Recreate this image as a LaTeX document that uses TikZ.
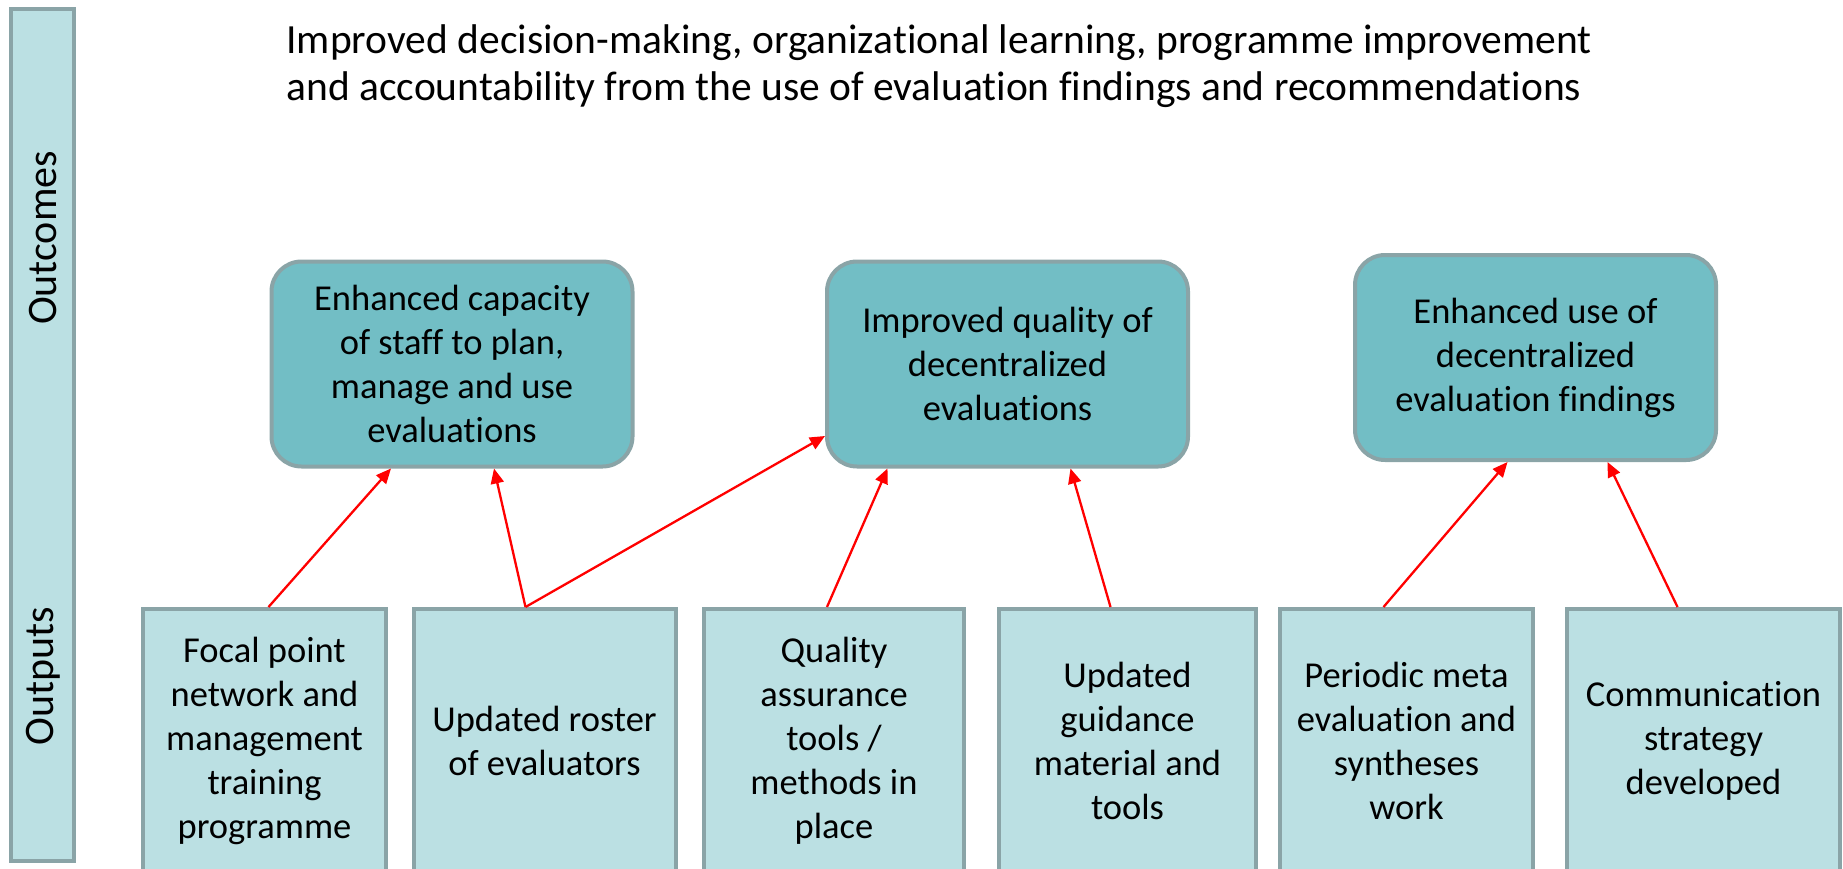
\documentclass[tikz,border=0pt]{standalone}
\usepackage{fontspec}
\setmainfont{Carlito}[Ligatures=NoCommon]
\usetikzlibrary{arrows.meta}

\definecolor{boxedge}{HTML}{8AA4A7}
\definecolor{outcomefill}{HTML}{72BEC5}
\definecolor{outputfill}{HTML}{BBE0E3}

\tikzset{
  sidebar/.style={draw=boxedge, fill=outputfill, line width=4pt},
  levellabel/.style={rotate=90, font=\fontsize{42}{48}\selectfont},
  outcome/.style={draw=boxedge, fill=outcomefill, line width=4pt,
    rounded corners=30pt, minimum width=361pt, minimum height=205pt,
    align=center, font=\fontsize{36.5}{44}\selectfont},
  output/.style={draw=boxedge, fill=outputfill, line width=4pt,
    minimum height=264pt, align=center, font=\fontsize{36.5}{44}\selectfont},
  link/.style={draw=red, line width=2.3pt, -{Triangle[length=15pt,width=13pt]}}
}

\begin{document}
\begin{tikzpicture}[x=1pt, y=-1pt]
\useasboundingbox (0,0) rectangle (1843,868);

% left bar with the two levels
\node[sidebar, minimum width=63pt, minimum height=852pt] (bar) at (42.5,435) {};
\node[levellabel] (lvltop) at (43,238) {Outcomes};
\node[levellabel] (lvlbot) at (43,676) {Outputs};

% goal
\node[anchor=west, align=left, font=\fontsize{41.5}{47}\selectfont] (goal) at (283,66.5)
  {Improved decision-making, organizational learning, programme improvement\\
   and accountability from the use of evaluation findings and recommendations};

% outcomes
\node[outcome] (capacity) at (452,364) {Enhanced capacity\\of staff to plan,\\manage and use\\evaluations};
\node[outcome] (quality) at (1007.5,364) {Improved quality of\\decentralized\\evaluations};
\node[outcome] (use) at (1535.5,357.5) {Enhanced use of\\decentralized\\evaluation findings};

% outputs
\node[output, minimum width=243pt] (focal) at (264.5,741) {Focal point\\network and\\management\\training\\programme};
\node[output, minimum width=262pt] (roster) at (544.5,741) {Updated roster\\of evaluators};
\node[output, minimum width=260pt] (qatools) at (834,741) {Quality\\assurance\\tools /\\methods in\\place};
\node[output, minimum width=257pt] (guidance) at (1127.5,741) {Updated\\guidance\\material and\\tools};
\node[output, minimum width=253pt] (meta) at (1406.5,741) {Periodic meta\\evaluation and\\syntheses\\work};
\node[output, minimum width=273pt] (comms) at (1703.5,741) {Communication\\strategy\\developed};

% links
\draw[link] ([xshift=4pt]focal.north) -- ([xshift=-61pt]capacity.south);
\draw[link] ([xshift=-19pt]roster.north) -- ([xshift=42pt]capacity.south);
\draw[link] ([xshift=-19pt]roster.north) -- ([yshift=-72pt]quality.west);
\draw[link] ([xshift=-7pt]qatools.north) -- ([xshift=-120pt]quality.south);
\draw[link] ([xshift=-17pt]guidance.north) -- ([xshift=63pt]quality.south);
\draw[link] ([xshift=-23pt]meta.north) -- ([xshift=-28pt]use.south);
\draw[link] ([xshift=-26pt]comms.north) -- ([xshift=72pt]use.south);
\end{tikzpicture}
\end{document}
